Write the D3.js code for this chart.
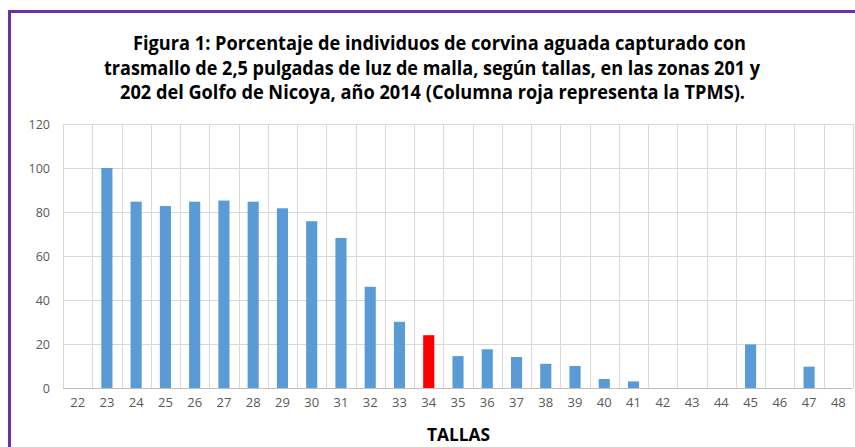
<!DOCTYPE html>
<meta charset="utf-8"/>
<head>
<style>
body { margin: 0; background: #fff; }
svg { display: block; }
.tick text { fill: #595959; font-family: 'Open Sans', sans-serif; }
.title { font-family: 'Open Sans', sans-serif; font-weight: bold; fill: #000; }
</style>
</head>
<script src="https://d3js.org/d3.v7.min.js"></script>
<body>
<div id="chart"></div>
<script type="text/javascript">

// tallas (cm) and percentage captured
var tallas = ["22","23","24","25","26","27","28","29","30","31","32","33","34","35","36","37","38","39","40","41","42","43","44","45","46","47","48"];
var porcentaje = [0,100,84.7,82.7,84.7,85.2,84.7,81.7,75.8,68.2,46,30.1,24,14.5,17.6,14.1,11,10,4.1,3,0,0,0,19.8,0,9.7,0];
var yTicks = [0,20,40,60,80,100,120];
var tpms = "34";
var titleLines = [
  "Figura 1: Porcentaje de individuos de corvina aguada capturado con",
  "trasmallo de 2,5 pulgadas de luz de malla, según tallas, en las zonas 201 y",
  "202 del Golfo de Nicoya, año 2014 (Columna roja representa la TPMS)."
];
var titleSpan = [[133,746],[104,760],[120,745]];

var W = 855, H = 447;
var margin = { top: 124, right: 2, bottom: 59, left: 63 };
var width = W - margin.left - margin.right,
    height = H - margin.top - margin.bottom;

var svg = d3.select("#chart").append("svg")
    .attr("width", W)
    .attr("height", H);

// purple frame
svg.append("rect")
    .attr("x", 9.5).attr("y", 11.5)
    .attr("width", W + 20).attr("height", H + 20)
    .attr("fill", "none")
    .attr("stroke", "#7030a0")
    .attr("stroke-width", 3);

// title
svg.selectAll(".title")
  .data(titleLines)
  .enter().append("text")
    .attr("class", "title")
    .attr("font-size", 19)
    .attr("x", function(d, i) { return titleSpan[i][0]; })
    .attr("y", function(d, i) { return 50 + i * 24.5; })
    .attr("textLength", function(d, i) { return titleSpan[i][1] - titleSpan[i][0]; })
    .attr("lengthAdjust", "spacingAndGlyphs")
    .text(function(d) { return d; });

var g = svg.append("g")
    .attr("transform", "translate(" + margin.left + "," + margin.top + ")");

var x = d3.scaleBand()
    .domain(tallas)
    .range([0, width])
    .paddingInner(0.62)
    .paddingOuter(0.31);

var y = d3.scaleLinear()
    .domain([0, 120])
    .range([height, 0]);

// horizontal gridlines
g.selectAll(".hgrid")
  .data(yTicks)
  .enter().append("line")
    .attr("x1", 0).attr("x2", width)
    .attr("y1", function(d) { return Math.round(y(d)) + 0.5; })
    .attr("y2", function(d) { return Math.round(y(d)) + 0.5; })
    .attr("stroke", function(d) { return d === 0 ? "#bfbfbf" : "#d9d9d9"; })
    .attr("stroke-width", 1);

// vertical gridlines at category boundaries
var bounds = d3.range(tallas.length + 1);
g.selectAll(".vgrid")
  .data(bounds)
  .enter().append("line")
    .attr("x1", function(d) { return Math.round(d * width / tallas.length) + 0.5; })
    .attr("x2", function(d) { return Math.round(d * width / tallas.length) + 0.5; })
    .attr("y1", 0).attr("y2", height)
    .attr("stroke", "#d9d9d9")
    .attr("stroke-width", 1);

// bars
g.selectAll(".bar")
  .data(tallas)
  .enter().append("rect")
    .attr("class", "bar")
    .attr("x", function(d) { return x(d); })
    .attr("width", x.bandwidth())
    .attr("y", function(d, i) { return y(porcentaje[i]); })
    .attr("height", function(d, i) { return height - y(porcentaje[i]); })
    .attr("fill", function(d) { return d === tpms ? "#ff0000" : "#5b9bd5"; });

// y axis labels
var yAxis = d3.axisLeft(y).tickValues(yTicks).tickSize(0).tickPadding(13);
g.append("g").call(yAxis)
  .call(function(s) { s.select(".domain").remove(); })
  .selectAll("text").attr("font-size", 12.5);

// x axis labels
var xAxis = d3.axisBottom(x).tickSize(0).tickPadding(10);
g.append("g")
  .attr("transform", "translate(0," + height + ")")
  .call(xAxis)
  .call(function(s) { s.select(".domain").remove(); })
  .selectAll("text").attr("font-size", 13);

// x axis title
svg.append("text")
    .attr("class", "title")
    .attr("x", 427)
    .attr("y", 441)
    .attr("font-size", 18)
    .attr("textLength", 63)
    .attr("lengthAdjust", "spacingAndGlyphs")
    .text("TALLAS");

</script>
</body>
